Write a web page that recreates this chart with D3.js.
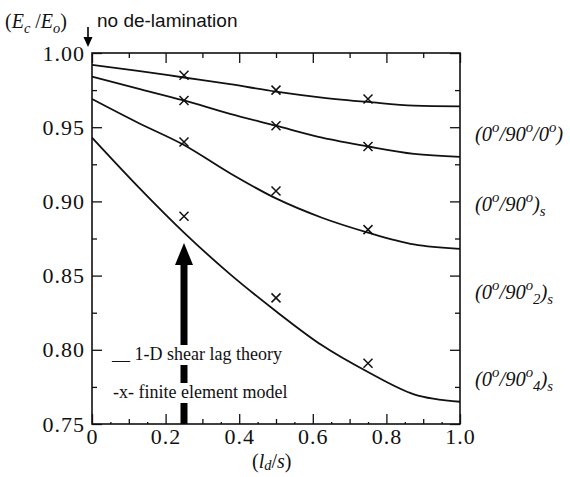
<!DOCTYPE html>
<html>
<head>
<meta charset="utf-8">
<script src="https://cdn.jsdelivr.net/npm/d3@7"></script>
<style>
  body { margin: 0; background: #fff; }
  svg text { font-family: "Liberation Serif", "DejaVu Serif", serif; }
  svg text.sans { font-family: "Liberation Sans", "DejaVu Sans", sans-serif; }
</style>
</head>
<body>
<div id="canvas"></div>
<script>
"use strict"

/* values */
let ratioX = [0, 0.125, 0.25, 0.375, 0.5, 0.625, 0.75, 0.875, 1.0]
let shearLag090_0 = [0.992, 0.988, 0.9835, 0.979, 0.974, 0.970, 0.967, 0.9645, 0.964]
let shearLag090s = [0.984, 0.976, 0.968, 0.959, 0.951, 0.943, 0.937, 0.932, 0.930]
let shearLag0902s = [0.969, 0.953, 0.938, 0.919, 0.902, 0.889, 0.879, 0.871, 0.868]
let shearLag0904s = [0.943, 0.910, 0.879, 0.851, 0.826, 0.803, 0.785, 0.770, 0.765]

let femX = [0.25, 0.5, 0.75]
let fem090_0 = [0.985, 0.975, 0.969]
let fem090s = [0.968, 0.951, 0.937]
let fem0902s = [0.940, 0.907, 0.881]
let fem0904s = [0.890, 0.835, 0.791]

let yTicks = [0.75, 0.80, 0.85, 0.90, 0.95, 1.00]
let xTicks = [0, 0.2, 0.4, 0.6, 0.8, 1.0]

let drawing = d3.select("#canvas")
    .append("svg")
    .attr("width", 570)
    .attr("height", 477)

let x = d3.scaleLinear().domain([0, 1]).range([92, 460])
let y = d3.scaleLinear().domain([0.75, 1]).range([424, 53])

/* ticks all point inward, on all four sides */
function tickAxis(axisFn, scale, values, size, pos, labels) {
    let ax = axisFn(scale).tickValues(values).tickSizeInner(-size).tickSizeOuter(0).tickPadding(7)
    if (!labels) ax.tickFormat("")
    let g = drawing.append("g").attr("transform", pos).call(ax)
    g.attr("font-family", null)
    g.select(".domain").remove()
    g.selectAll("line").attr("stroke", "#111").attr("stroke-width", 1.3)
    g.selectAll("text").style("font-size", "22px").style("letter-spacing", "1px").attr("fill", "#111")
    return g
}

let yMinor = d3.range(0.775, 1.0, 0.05)
let xSmall = d3.range(0.05, 1.0, 0.1)
let xMid = [0.1, 0.3, 0.5, 0.7, 0.9]

let left = tickAxis(d3.axisLeft, y, yTicks, 10, "translate(92,0)", true)
left.selectAll("text").text(d => d3.format(".2f")(d)).attr("x", -7)
tickAxis(d3.axisLeft, y, yMinor, 5, "translate(92,0)", false)
tickAxis(d3.axisRight, y, yTicks, 10, "translate(460,0)", false)
tickAxis(d3.axisRight, y, yMinor, 5, "translate(460,0)", false)

let bottom = tickAxis(d3.axisBottom, x, xTicks, 10, "translate(0,424)", true)
bottom.selectAll("text").text(d => d === 0 ? "0" : d3.format(".1f")(d)).attr("dy", 13)
tickAxis(d3.axisBottom, x, xMid, 5, "translate(0,424)", false)
tickAxis(d3.axisBottom, x, xSmall, 2, "translate(0,424)", false)
tickAxis(d3.axisTop, x, xTicks, 10, "translate(0,53)", false)
tickAxis(d3.axisTop, x, xMid, 5, "translate(0,53)", false)

/* frame */
drawing.append("rect")
    .attr("x", x(0)).attr("y", y(1))
    .attr("width", x(1) - x(0)).attr("height", y(0.75) - y(1))
    .attr("fill", "none").attr("stroke", "#111").attr("stroke-width", 1.6)

/* shear lag curves */
let line = d3.line()
    .x((d, i) => x(ratioX[i]))
    .y(d => y(d))
    .curve(d3.curveMonotoneX)

let curves = [shearLag090_0, shearLag090s, shearLag0902s, shearLag0904s]
drawing.selectAll(".curve").data(curves).enter()
    .append("path")
    .attr("class", "curve")
    .attr("d", line)
    .attr("fill", "none")
    .attr("stroke", "#111")
    .attr("stroke-width", 1.8)

/* finite element crosses */
let fems = [fem090_0, fem090s, fem0902s, fem0904s]
fems.forEach(vals => {
    vals.forEach((v, i) => {
        let cx = x(femX[i]), cy = y(v)
        drawing.append("path")
            .attr("d", `M${cx - 4.5},${cy - 4.5}L${cx + 4.5},${cy + 4.5}M${cx - 4.5},${cy + 4.5}L${cx + 4.5},${cy - 4.5}`)
            .attr("stroke", "#111")
            .attr("stroke-width", 1.5)
    })
})

/* big arrow at l/s = 0.25 */
let ax0 = x(0.25)
drawing.append("rect")
    .attr("x", ax0 - 3.5).attr("y", 262)
    .attr("width", 7).attr("height", y(0.75) - 262)
    .attr("fill", "#000")
drawing.append("path")
    .attr("d", `M${ax0 - 9},265L${ax0 + 9},265L${ax0},243Z`)
    .attr("fill", "#000")

/* legend, white boxes cut the arrow */
function legendLine(txt, lx, ly) {
    let t = drawing.append("text")
        .attr("x", lx).attr("y", ly)
        .style("font-size", "18px")
        .attr("fill", "#111")
        .text(txt)
    let b = t.node().getBBox()
    drawing.insert("rect", () => t.node())
        .attr("x", b.x - 2).attr("y", ly - 15)
        .attr("width", b.width + 4).attr("height", 20)
        .attr("fill", "#fff")
}
legendLine("__ 1-D shear lag theory", 112, 360)
legendLine("-x- finite element model", 113, 398)

/* text with raised / lowered parts */
function richText(tx, ty, parts, size) {
    let t = drawing.append("text")
        .attr("x", tx).attr("y", ty)
        .style("font-size", size + "px")
        .attr("fill", "#111")
    let shift = 0
    parts.forEach(p => {
        let target = p.s === "sup" ? -size * 0.42 : p.s === "sub" ? size * (p.d || 0.25) : 0
        t.append("tspan")
            .attr("dy", target - shift)
            .style("font-size", (p.s ? size * 0.72 : size) + "px")
            .style("font-style", p.i ? "italic" : "normal")
            .text(p.t)
        shift = target
    })
    return t
}

/* laminate labels on the right */
richText(475, 141, [{t: "(0", i: 1}, {t: "o", s: "sup", i: 1}, {t: "/90", i: 1}, {t: "o", s: "sup", i: 1},
                    {t: "/0", i: 1}, {t: "o", s: "sup", i: 1}, {t: ")", i: 1}], 20.5)
richText(475, 211, [{t: "(0", i: 1}, {t: "o", s: "sup", i: 1}, {t: "/90", i: 1}, {t: "o", s: "sup", i: 1},
                    {t: ")", i: 1}, {t: "s", s: "sub", i: 1}], 20.5)
richText(475, 299, [{t: "(0", i: 1}, {t: "o", s: "sup", i: 1}, {t: "/90", i: 1}, {t: "o", s: "sup", i: 1},
                    {t: "2", s: "sub", i: 1}, {t: ")", i: 1}, {t: "s", s: "sub", i: 1}], 20.5)
richText(475, 386, [{t: "(0", i: 1}, {t: "o", s: "sup", i: 1}, {t: "/90", i: 1}, {t: "o", s: "sup", i: 1},
                    {t: "4", s: "sub", i: 1}, {t: ")", i: 1}, {t: "s", s: "sub", i: 1}], 20.5)

/* axis titles */
richText(5, 28, [{t: "("}, {t: "E", i: 1}, {t: "c", s: "sub", i: 1}, {t: " /"}, {t: "E", i: 1},
                 {t: "o", s: "sub", i: 1}, {t: ")"}], 20)
richText(252, 468, [{t: "("}, {t: "l", i: 1}, {t: "d", s: "sub", i: 1, d: 0.08}, {t: "/"}, {t: "s", i: 1}, {t: ")"}], 20)

drawing.append("text")
    .attr("class", "sans")
    .attr("x", 97).attr("y", 27)
    .style("font-size", "19px")
    .attr("fill", "#111")
    .text("no de-lamination")

/* small down arrow: no de-lamination at l/s = 0 */
drawing.append("line")
    .attr("x1", 88).attr("y1", 27).attr("x2", 88).attr("y2", 38)
    .attr("stroke", "#000").attr("stroke-width", 1.6)
drawing.append("path")
    .attr("d", "M83.5,37L92.5,37L88,47Z")
    .attr("fill", "#000")
</script>
</body>
</html>
